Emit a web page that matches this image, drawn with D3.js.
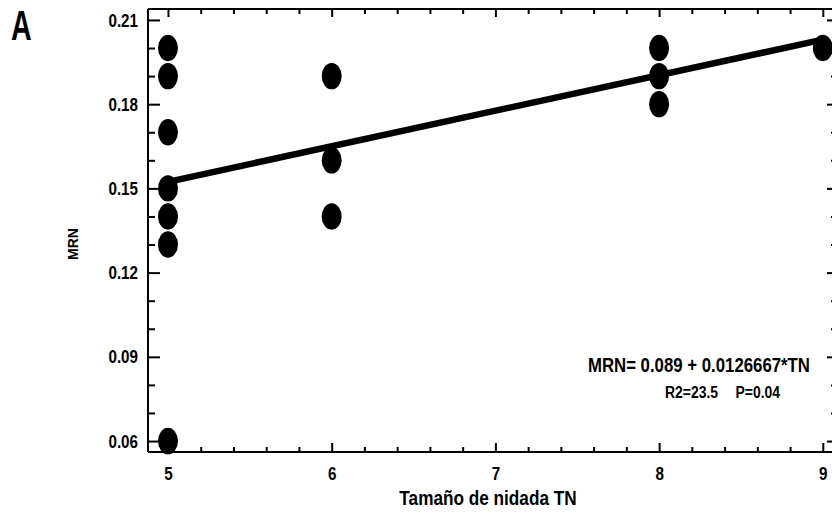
<!DOCTYPE html>
<html><head><meta charset="utf-8">
<script src="https://cdn.jsdelivr.net/npm/d3@7"></script>
<style>
html,body{margin:0;padding:0;background:#fff;}
svg{display:block;}
.narrow{font-family:"Liberation Sans",Arial,sans-serif;font-weight:bold;}
</style></head>
<body>
<svg id="chart" width="832" height="519"></svg>
<script>
// ---- data ----
const tnValues = [5,5,5,5,5,5,5,6,6,6,8,8,8,9];
const mrnValues = [0.20,0.19,0.17,0.15,0.14,0.13,0.06,0.19,0.16,0.14,0.20,0.19,0.18,0.20];
const xMajorTicks = [5,6,7,8,9];
const yMajorTicks = [0.06,0.09,0.12,0.15,0.18,0.21];
const fitIntercept = 0.089;
const fitSlope = 0.0126667;
const fitRange = [5,9];
const panelLabel = "A";
const xTitle = "Tamaño de nidada TN";
const yTitle = "MRN";
const equationText = "MRN= 0.089 + 0.0126667*TN";
const statR2 = "R2=23.5";
const statP = "P=0.04";

// ---- layout ----
const svg = d3.select("#chart");
const L = 148, R = 840, T = 9, B = 452;
const x = d3.scaleLinear().domain([4.878, 9.105]).range([L, R]);
const y = d3.scaleLinear().domain([0.0561, 0.2139]).range([B, T]);

const xMinor = d3.range(4.8, 9.2, 0.2).map(v=>+v.toFixed(1)).filter(v=>x(v)>=L && Math.abs(v-Math.round(v))>1e-6);
const yMinor = d3.range(6, 22, 1).map(v=>v/100).filter(v=>!yMajorTicks.some(m=>Math.abs(m-v)<1e-9) && y(v)>=T);

// condense text horizontally (narrow font look)
function condense(sel, sx){
  sel.each(function(){
    const t = d3.select(this);
    const tx = +t.attr("x") || 0, ty = +t.attr("y") || 0;
    t.attr("x",0).attr("y",0).attr("transform",`translate(${tx},${ty}) scale(${sx},1)`);
  });
}

function styleAxis(g){
  g.select(".domain").remove();
  g.selectAll(".tick line").attr("stroke","#000").attr("stroke-width",2);
  g.selectAll("text").attr("class","narrow").attr("fill","#000").attr("font-size",19);
  condense(g.selectAll("text"), 0.8);
}

// bottom axis
svg.append("g").attr("transform",`translate(0,${B})`)
  .call(d3.axisBottom(x).tickValues(xMajorTicks).tickSize(-9).tickPadding(15).tickFormat(d3.format("d")))
  .call(styleAxis);
svg.append("g").attr("transform",`translate(0,${B})`)
  .call(d3.axisBottom(x).tickValues(xMinor).tickSize(-5).tickFormat(""))
  .call(styleAxis);
// top axis
svg.append("g").attr("transform",`translate(0,${T})`)
  .call(d3.axisTop(x).tickValues(xMajorTicks).tickSize(-8).tickFormat(""))
  .call(styleAxis);
svg.append("g").attr("transform",`translate(0,${T})`)
  .call(d3.axisTop(x).tickValues(xMinor).tickSize(-5).tickFormat(""))
  .call(styleAxis);
// left axis
svg.append("g").attr("transform",`translate(${L},0)`)
  .call(d3.axisLeft(y).tickValues(yMajorTicks).tickSize(-12).tickPadding(10).tickFormat(d3.format(".2f")))
  .call(styleAxis);
svg.append("g").attr("transform",`translate(${L},0)`)
  .call(d3.axisLeft(y).tickValues(yMinor).tickSize(-7).tickFormat(""))
  .call(styleAxis);
// right axis
svg.append("g").attr("transform",`translate(${R},0)`)
  .call(d3.axisRight(y).tickValues(yMajorTicks).tickSize(-13).tickFormat(""))
  .call(styleAxis);
svg.append("g").attr("transform",`translate(${R},0)`)
  .call(d3.axisRight(y).tickValues(yMinor).tickSize(-9).tickFormat(""))
  .call(styleAxis);

// frame
svg.append("line").attr("x1",L).attr("x2",R).attr("y1",B).attr("y2",B).attr("stroke","#000").attr("stroke-width",2);
svg.append("line").attr("x1",L).attr("x2",R).attr("y1",T).attr("y2",T).attr("stroke","#000").attr("stroke-width",2);
svg.append("line").attr("x1",L).attr("x2",L).attr("y1",T).attr("y2",B).attr("stroke","#000").attr("stroke-width",2);

// regression line
svg.append("line")
  .attr("x1",x(fitRange[0])).attr("y1",y(fitIntercept+fitSlope*fitRange[0]))
  .attr("x2",x(fitRange[1])).attr("y2",y(fitIntercept+fitSlope*fitRange[1]))
  .attr("stroke","#000").attr("stroke-width",6.5);

// points
svg.append("g").selectAll("ellipse").data(tnValues.map((t,i)=>[t,mrnValues[i]]))
  .join("ellipse")
  .attr("cx",d=>x(d[0])).attr("cy",d=>y(d[1]))
  .attr("rx",10).attr("ry",13.2).attr("fill","#000");

// texts
const a = svg.append("text").attr("class","narrow").attr("x",11).attr("y",40)
  .attr("font-size",42).text(panelLabel);
condense(a, 0.68);
const xt = svg.append("text").attr("class","narrow").attr("x",488).attr("y",505)
  .attr("text-anchor","middle").attr("font-size",20).text(xTitle);
condense(xt, 0.86);
svg.append("text").attr("transform","translate(78,244) rotate(-90)")
  .attr("text-anchor","middle").attr("font-family","Liberation Sans, Arial, sans-serif")
  .attr("font-weight","bold").attr("font-size",14).text(yTitle);
const eq = svg.append("text").attr("class","narrow").attr("x",810).attr("y",372)
  .attr("text-anchor","end").attr("font-size",20).text(equationText);
condense(eq, 0.84);
const r2 = svg.append("text").attr("class","narrow").attr("x",665).attr("y",398)
  .attr("font-size",17).text(statR2);
condense(r2, 0.82);
const pv = svg.append("text").attr("class","narrow").attr("x",780).attr("y",398)
  .attr("text-anchor","end").attr("font-size",17).text(statP);
condense(pv, 0.82);
</script>
</body></html>
